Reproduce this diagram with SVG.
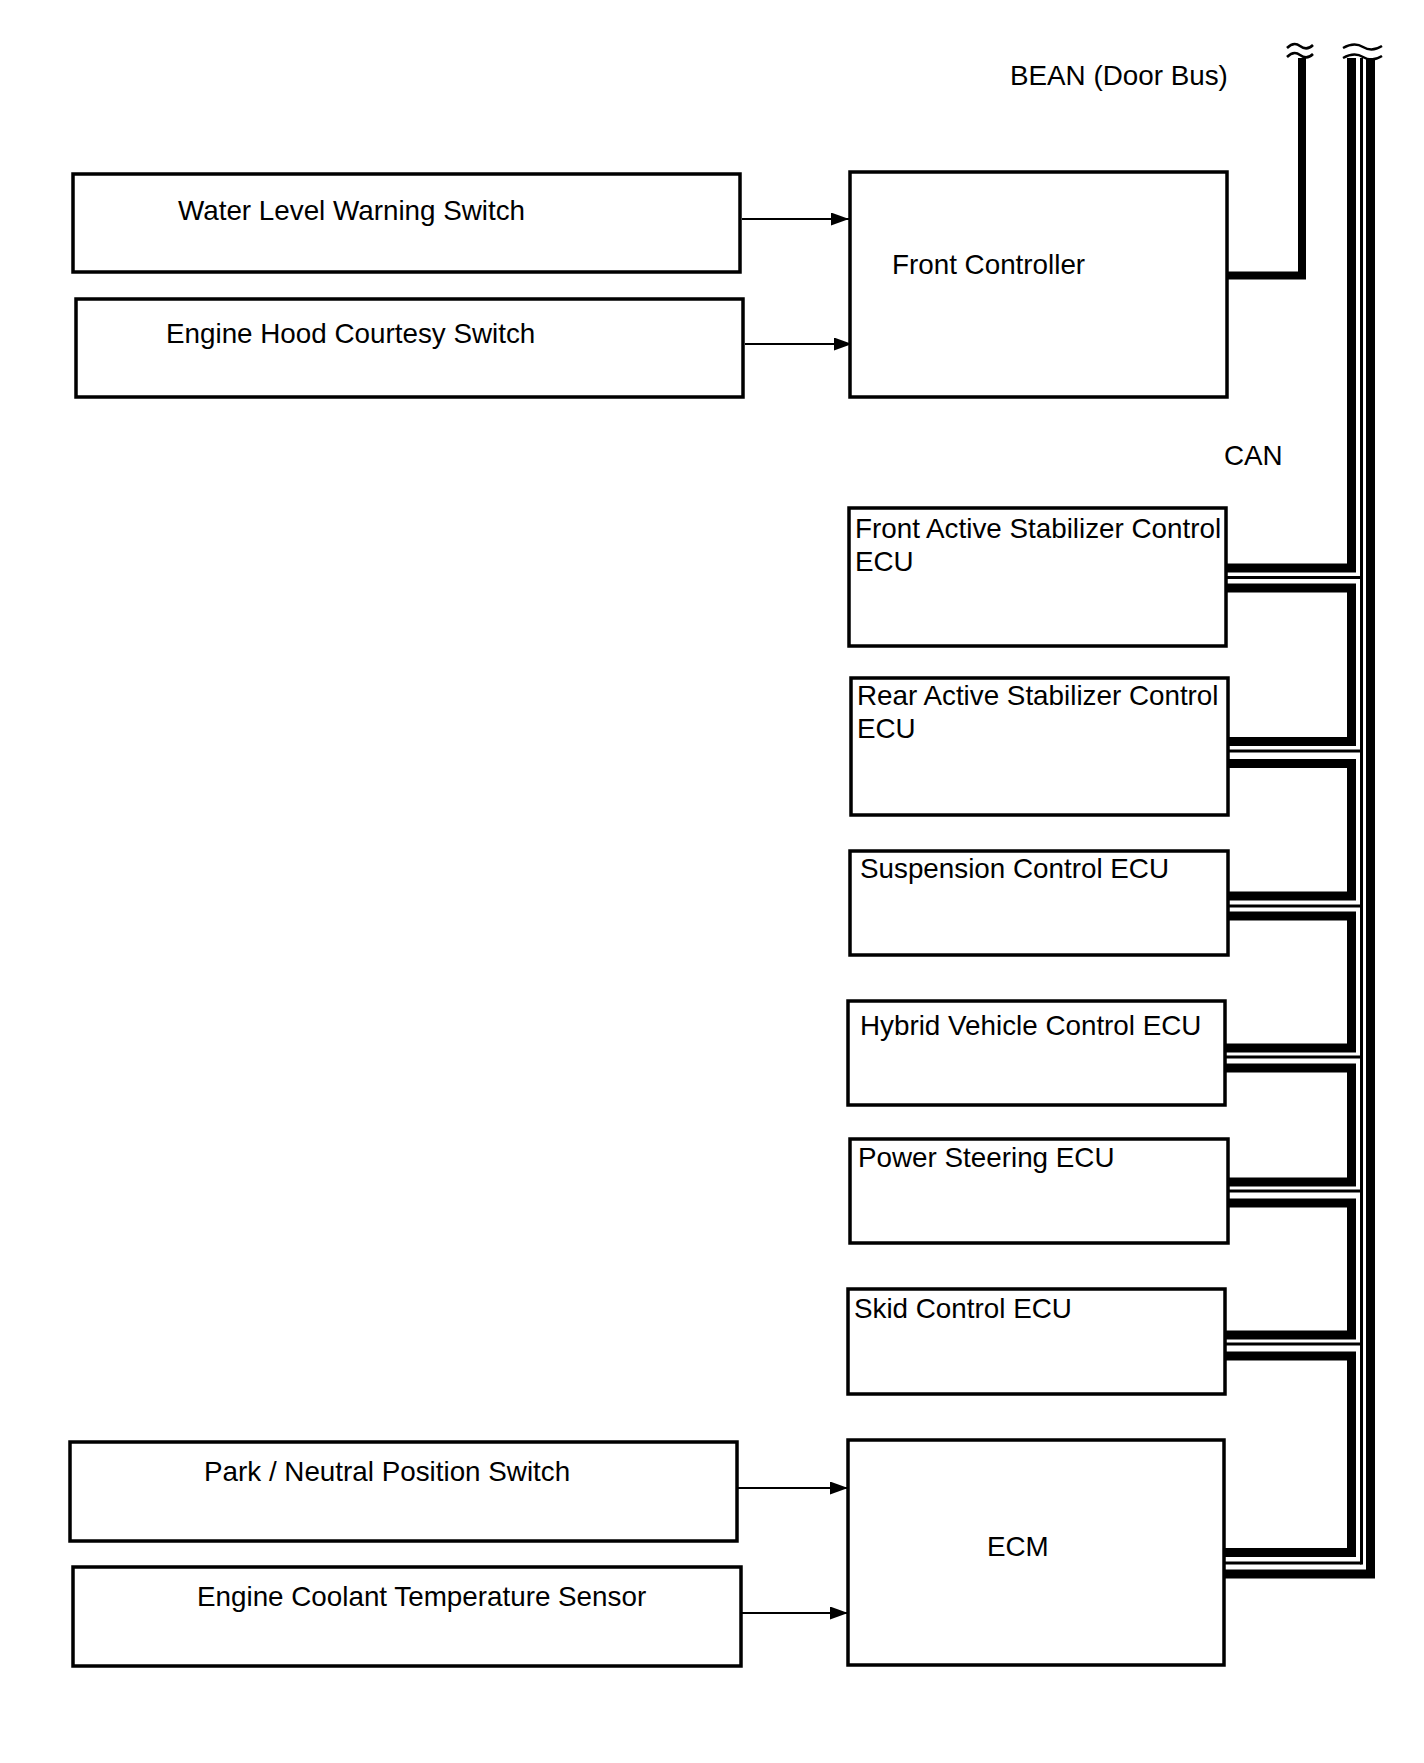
<svg xmlns="http://www.w3.org/2000/svg" width="1424" height="1763" viewBox="0 0 1424 1763">
<style>
  .box { fill: #fff; stroke: #000; stroke-width: 3.5; }
  .lbl { font-family: "Liberation Sans", Arial, sans-serif; font-size: 27.8px; fill: #000; }
  .sig { stroke: #000; stroke-width: 2; fill: none; }
  .thick { stroke: #000; stroke-width: 9; fill: none; stroke-linejoin: miter; stroke-linecap: butt; }
  .bean { stroke: #000; stroke-width: 8; fill: none; stroke-linejoin: miter; }
  .thin { stroke: #000; stroke-width: 3; fill: none; }
  .tilde { stroke: #000; stroke-width: 2.5; fill: none; }
</style>
<defs>
  <marker id="arr" markerUnits="userSpaceOnUse" markerWidth="20" markerHeight="14" refX="18" refY="6.5" orient="auto">
    <path d="M0,0 L18,6.5 L0,13 Z" fill="#000"/>
  </marker>
</defs>
<rect width="1424" height="1763" fill="#fff"/>

<g id="connectors">
  <line class="sig" x1="742" y1="219" x2="849" y2="219" marker-end="url(#arr)"/>
  <line class="sig" x1="745" y1="344" x2="852" y2="344" marker-end="url(#arr)"/>
  <line class="sig" x1="737" y1="1488" x2="848" y2="1488" marker-end="url(#arr)"/>
  <line class="sig" x1="741" y1="1613" x2="848" y2="1613" marker-end="url(#arr)"/>
  <!-- BEAN -->
  <path class="bean" d="M1302,58 V275.5 H1228"/>
  <path class="tilde" d="M1287,48 C1292,43 1296,43 1300,46 S1308,50 1313,45"/>
  <path class="tilde" d="M1287,57 C1292,52 1296,52 1300,55 S1308,59 1313,54"/>
  <!-- CAN -->
  <path class="tilde" d="M1343,48 C1352,43 1358,44 1363,47 S1374,51 1382,46"/>
  <path class="tilde" d="M1343,58 C1352,53 1358,54 1363,57 S1374,61 1382,56"/>
  <path class="thick" d="M1351.5,58 V568 H1226"/>
  <path class="thick" d="M1226,588 H1351.5 V741.5 H1228"/>
  <path class="thick" d="M1228,763.5 H1351.5 V896 H1228"/>
  <path class="thick" d="M1228,916 H1351.5 V1048 H1225"/>
  <path class="thick" d="M1225,1068 H1351.5 V1182 H1228"/>
  <path class="thick" d="M1228,1203 H1351.5 V1335 H1225"/>
  <path class="thick" d="M1225,1356 H1351.5 V1552.5 H1224"/>
  <path class="thick" d="M1370.5,58 V1574 H1224"/>
  <path class="thin" d="M1361.5,58 V1564.5"/>
  <path class="thin" d="M1226,577.5 H1361.5 M1228,751 H1361.5 M1228,906 H1361.5 M1225,1057 H1361.5 M1228,1191 H1361.5 M1225,1344 H1361.5 M1224,1563 H1361.5"/>
  <text class="lbl" x="1010" y="85">BEAN (Door Bus)</text>
  <text class="lbl" x="1224" y="465">CAN</text>
</g>

<g id="water-level-warning-switch">
  <rect class="box" x="73" y="174" width="667" height="98"/>
  <text class="lbl" x="178" y="220">Water Level Warning Switch</text>
</g>
<g id="engine-hood-courtesy-switch">
  <rect class="box" x="76" y="299" width="667" height="98"/>
  <text class="lbl" x="166" y="343">Engine Hood Courtesy Switch</text>
</g>
<g id="front-controller">
  <rect class="box" x="850" y="172" width="377" height="225"/>
  <text class="lbl" x="892" y="274">Front Controller</text>
</g>
<g id="front-active-stabilizer-ecu">
  <rect class="box" x="849" y="508" width="377" height="138"/>
  <text class="lbl" x="855" y="538">Front Active Stabilizer Control</text>
  <text class="lbl" x="855" y="571">ECU</text>
</g>
<g id="rear-active-stabilizer-ecu">
  <rect class="box" x="851" y="678" width="377" height="137"/>
  <text class="lbl" x="857" y="705">Rear Active Stabilizer Control</text>
  <text class="lbl" x="857" y="738">ECU</text>
</g>
<g id="suspension-control-ecu">
  <rect class="box" x="850" y="851" width="378" height="104"/>
  <text class="lbl" x="860" y="878">Suspension Control ECU</text>
</g>
<g id="hybrid-vehicle-control-ecu">
  <rect class="box" x="848" y="1001" width="377" height="104"/>
  <text class="lbl" x="860" y="1035">Hybrid Vehicle Control ECU</text>
</g>
<g id="power-steering-ecu">
  <rect class="box" x="850" y="1139" width="378" height="104"/>
  <text class="lbl" x="858" y="1167">Power Steering ECU</text>
</g>
<g id="skid-control-ecu">
  <rect class="box" x="848" y="1289" width="377" height="105"/>
  <text class="lbl" x="854" y="1318">Skid Control ECU</text>
</g>
<g id="park-neutral-position-switch">
  <rect class="box" x="70" y="1442" width="667" height="99"/>
  <text class="lbl" x="204" y="1481">Park / Neutral Position Switch</text>
</g>
<g id="engine-coolant-temperature-sensor">
  <rect class="box" x="73" y="1567" width="668" height="99"/>
  <text class="lbl" x="197" y="1606">Engine Coolant Temperature Sensor</text>
</g>
<g id="ecm">
  <rect class="box" x="848" y="1440" width="376" height="225"/>
  <text class="lbl" x="987" y="1556">ECM</text>
</g>
</svg>
